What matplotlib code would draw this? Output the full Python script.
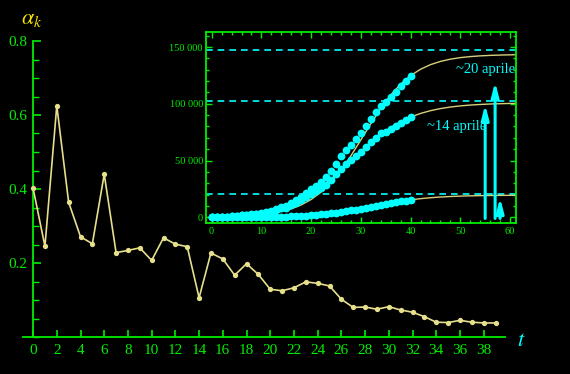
import matplotlib
matplotlib.use('Agg')
import matplotlib.pyplot as plt
from matplotlib.ticker import MultipleLocator, FuncFormatter

plt.rcParams['font.family'] = ['Liberation Serif', 'DejaVu Serif']
plt.rcParams['mathtext.fontset'] = 'stix'

# ---- main chart data: alpha_k ----
t_alpha = list(range(40))
alpha = [0.402, 0.245, 0.625, 0.364, 0.271, 0.252, 0.440, 0.228, 0.234, 0.241,
         0.207, 0.268, 0.251, 0.244, 0.106, 0.227, 0.211, 0.167, 0.198, 0.169,
         0.129, 0.125, 0.133, 0.149, 0.145, 0.138, 0.102, 0.080, 0.081, 0.075,
         0.082, 0.073, 0.067, 0.055, 0.040, 0.039, 0.045, 0.040, 0.038, 0.038]
main_xticks = list(range(0, 39, 2))
main_yticks = [0.2, 0.4, 0.6, 0.8]

# ---- inset data ----
days = list(range(41))
total = [229, 322, 400, 650, 888, 1128, 1694, 2036, 2502, 3089, 3858, 4636, 5883,
         7375, 9172, 10149, 12462, 15113, 17660, 21157, 24747, 27980, 31506, 35713,
         41035, 47021, 53578, 59138, 63927, 69176, 74386, 80539, 86498, 92472,
         97689, 101739, 105792, 110574, 115242, 119827, 124632]
active = [221, 311, 385, 588, 821, 1049, 1577, 1835, 2263, 2706, 3296, 3916, 5061,
          6387, 7985, 8514, 10590, 12839, 14955, 17750, 20603, 23073, 26062, 28710,
          33190, 37860, 42681, 46638, 50418, 54030, 57521, 62013, 66414, 70065,
          73880, 75528, 77635, 80572, 83049, 85388, 88274]
deaths = [7, 10, 12, 17, 21, 29, 34, 52, 79, 107, 148, 197, 233, 366, 463, 631, 827,
          1016, 1266, 1441, 1809, 2158, 2503, 2978, 3405, 4032, 4825, 5476, 6077,
          6820, 7503, 8165, 9134, 10023, 10779, 11591, 12428, 13155, 13915, 14681,
          15362]

fit_t = list(range(0, 63, 2))
fit_total = [321, 480, 713, 1060, 1577, 2340, 3466, 5110, 7486, 10887, 15655, 22165,
             30735, 41474, 54172, 68171, 82424, 95885, 107660, 117330, 124830,
             130420, 134460, 137320, 139300, 140660, 141580, 142210, 142630,
             142920, 143110, 143240]
fit_active = [959, 1330, 1839, 2540, 3500, 4800, 6558, 8900, 11958, 15900, 20835,
              26815, 33780, 41550, 49780, 58030, 65880, 72990, 79120, 84210, 88300,
              91490, 93930, 95760, 97130, 98130, 98870, 99400, 99790, 100070,
              100280, 100420]
fit_deaths = [58, 83, 119, 170, 240, 341, 484, 683, 961, 1345, 1863, 2555, 3454,
              4584, 5945, 7509, 9203, 10933, 12590, 14085, 15363, 16406, 17225,
              17847, 18313, 18653, 18899, 19075, 19200, 19289, 19352, 19396]

levels = [147600, 102800, 20200]
arrow_x = [55, 57, 58]
arrow_tip = [99300, 119200, 17200]
arrow_base = -1000
notes = ['~20 aprile', '~14 aprile']
note_x = [49.2, 43.4]
note_y = [130300, 80200]

GREEN = '#00ee00'
YEL = '#e6df8c'
CYAN = '#00ffff'
FIT = '#d8cf7a'

W, H = 570, 374
fig = plt.figure(figsize=(5.7, 3.74), dpi=100, facecolor='black')

# ---- main axes ----
ax = fig.add_axes([23 / W, 1 - 337 / H, (505 - 23) / W, (337 - 41) / H])
ax.set_facecolor('black')
ax.plot(t_alpha, alpha, '-o', color=YEL, lw=1.2, ms=3.8, mew=0, zorder=3, clip_on=False)
ax.set_xlim(-0.85, 39.8)
ax.set_ylim(0, 0.8)
ax.spines['left'].set_position(('data', 0))
for s in ['top', 'right']:
    ax.spines[s].set_visible(False)
for s in ['left', 'bottom']:
    ax.spines[s].set_color(GREEN)
    ax.spines[s].set_linewidth(1.3)
ax.set_xticks(main_xticks)
ax.set_xticklabels([str(v) for v in main_xticks])
ax.set_yticks(main_yticks)
ax.set_yticklabels([f'{v:.1f}' for v in main_yticks])
ax.yaxis.set_minor_locator(MultipleLocator(0.05))
ax.tick_params(axis='both', which='both', direction='in', colors=GREEN, labelsize=11)
ax.tick_params(axis='x', which='major', length=5, width=1.2, pad=5)
ax.tick_params(axis='y', which='major', length=6, width=1.2, pad=4)
ax.tick_params(axis='y', which='minor', length=4, width=1.0)

fig.text(32 / W, 1 - 24 / H, r'$\alpha_k$', color='#f2e000', fontsize=16,
         ha='center', va='baseline')
fig.text(521 / W, 1 - 346 / H, r'$t$', color=CYAN, fontsize=16,
         ha='center', va='baseline')

# ---- inset ----
ins = fig.add_axes([205.7 / W, 1 - 223.3 / H, (516 - 205.7) / W, (223.3 - 31.7) / H])
ins.set_facecolor('black')
ins.set_xlim(-1.2, 61.2)
ins.set_ylim(-5300, 163500)
for lv in levels:
    ins.axhline(lv, color=CYAN, lw=1.2, ls=(0, (4, 3)), zorder=1)
for fy in [fit_total, fit_active, fit_deaths]:
    ins.plot(fit_t, fy, color=FIT, lw=1.0, zorder=2)
for series in [deaths, active, total]:
    ins.plot(days, series, 'o', color=CYAN, ms=5.6, mew=0, zorder=3)
for xa, tip in zip(arrow_x, arrow_tip):
    ins.annotate('', xy=(xa, tip), xytext=(xa, arrow_base),
                 arrowprops=dict(arrowstyle='-|>,head_length=0.85,head_width=0.22',
                                 color=CYAN, lw=2.2, mutation_scale=10,
                                 shrinkA=0, shrinkB=0), zorder=4)
for txt, xn, yn in zip(notes, note_x, note_y):
    ins.text(xn, yn, txt, color=CYAN, fontsize=10.5, ha='left', va='center', zorder=5)

for s in ins.spines.values():
    s.set_color(GREEN)
    s.set_linewidth(1.3)
ins.xaxis.set_major_locator(MultipleLocator(10))
ins.xaxis.set_minor_locator(MultipleLocator(2))
ins.yaxis.set_major_locator(MultipleLocator(50000))
ins.yaxis.set_minor_locator(MultipleLocator(10000))
ins.yaxis.set_major_formatter(FuncFormatter(lambda v, p: f'{int(v):,}'.replace(',', ' ')))
ins.xaxis.set_major_formatter(FuncFormatter(lambda v, p: f'{int(v)}'))
ins.tick_params(which='both', direction='in', top=True, right=True, colors=GREEN,
                labelsize=7.5)
ins.tick_params(which='major', length=4, width=1.0)
ins.tick_params(which='minor', length=2.5, width=1.0)
ins.tick_params(axis='y', pad=2)
ins.tick_params(axis='x', pad=3)

fig.savefig('out.png', dpi=100, facecolor='black')
